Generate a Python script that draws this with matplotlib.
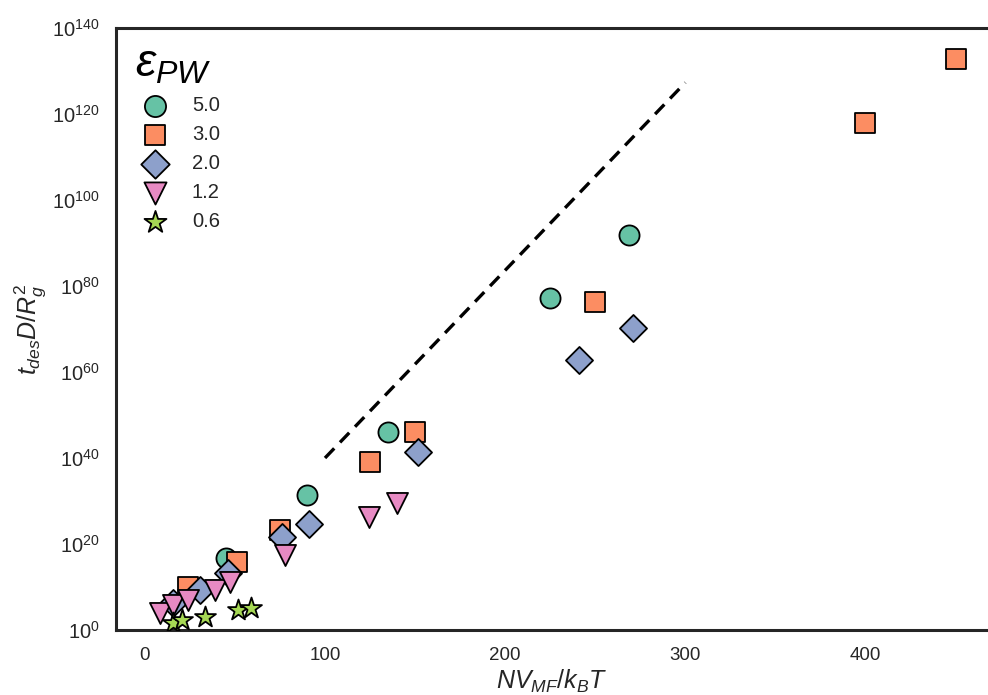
import numpy as np
import matplotlib
matplotlib.use("Agg")
import matplotlib.pyplot as plt
from matplotlib.ticker import FixedLocator, FuncFormatter

plt.rcParams['font.family'] = ['Liberation Sans', 'DejaVu Sans']
plt.rcParams['mathtext.fontset'] = 'custom'
plt.rcParams['mathtext.rm'] = 'Liberation Sans'
plt.rcParams['mathtext.it'] = 'Liberation Sans:italic'
plt.rcParams['mathtext.bf'] = 'Liberation Sans:bold'

# ---- data (x = N V_MF / kBT, y = log10(t_des D / Rg^2)) ----
eps_labels = ["5.0", "3.0", "2.0", "1.2", "0.6"]
colors = ["#66c2a5", "#fc8d62", "#8da0cb", "#e78ac3", "#a6d854"]
markers = ["o", "s", "D", "v", "*"]
sizes = [210, 200, 190, 230, 250]

x_50 = [45, 90, 135, 225, 269]
y_50 = [16.7, 31.4, 46.0, 77.2, 91.9]

x_30 = [24, 51, 75, 125, 150, 250, 400, 450]
y_30 = [10.0, 15.8, 23.3, 39.0, 46.0, 76.3, 117.9, 132.8]

x_20 = [15.6, 30.5, 46, 76, 91, 151.5, 241, 271]
y_20 = [6.3, 9.3, 13.3, 21.6, 24.7, 41.4, 62.8, 70.2]

x_12 = [8.3, 15.6, 24, 39, 47, 78, 124.4, 140]
y_12 = [4.0, 5.8, 7.0, 9.3, 11.2, 17.4, 26.3, 29.5]

x_06 = [15.6, 20.5, 33.3, 51.7, 58.9]
y_06 = [1.6, 2.3, 3.0, 4.7, 5.1]

series_x = [x_50, x_30, x_20, x_12, x_06]
series_y = [y_50, y_30, y_20, y_12, y_06]

line_x = [100, 300]
line_y = [40.0, 127.3]

yticks = list(range(0, 141, 20))
xticks = [0, 100, 200, 300, 400]

fig = plt.figure(figsize=(9.88, 6.95), dpi=100)
ax = fig.add_axes([116/988, 1 - 630/695, 1 - 116/988, (630-28)/695])

for xs, ys, c, m, s, lab in zip(series_x, series_y, colors, markers, sizes, eps_labels):
    ax.scatter(xs, 10.0 ** np.array(ys), c=c, marker=m, s=s, edgecolors='black',
               linewidths=1.3, label=lab, zorder=3)

ax.plot(line_x, 10.0 ** np.array(line_y), '--', color='black', lw=2.4,
        dashes=(4, 2.5), zorder=2)

ax.set_yscale('log')
ax.set_xlim(-16, 468)
ax.set_ylim(1, 1e140)
ax.yaxis.set_major_locator(FixedLocator([10.0 ** t for t in yticks]))
ax.yaxis.set_minor_locator(FixedLocator([]))
ax.yaxis.set_major_formatter(FuncFormatter(
    lambda v, p: r'$\mathregular{10^{%d}}$' % int(round(np.log10(v)))))
ax.set_xticks(xticks)
ax.tick_params(axis='y', length=0, labelsize=14.5, colors='#262626', pad=12)
ax.tick_params(axis='x', length=0, labelsize=13.5, colors='#262626', pad=12)
for lbl in ax.get_xticklabels():
    lbl.set_fontfamily(['Liberation Sans Narrow', 'Liberation Sans'])

ax.set_xlabel(r'$NV_{MF}/k_BT$', fontsize=18, color='#262626', labelpad=3)
ax.set_ylabel(r'$t_{des}D/R_g^2$', fontsize=18, color='#262626', labelpad=3)

for side in ['left', 'top', 'bottom']:
    ax.spines[side].set_linewidth(2.2)
    ax.spines[side].set_color('#262626')
ax.spines['right'].set_visible(False)

leg = ax.legend(title=r'$\varepsilon_{PW}$', loc='upper left', frameon=False,
                fontsize=14.5, title_fontsize=33, handletextpad=0.85,
                labelspacing=0.5, borderaxespad=0.0, markerscale=1.05,
                bbox_to_anchor=(0.012, 0.99))
leg._legend_box.align = 'left'
for t in leg.get_texts():
    t.set_color('#262626')

fig.savefig('out.png', dpi=100)
